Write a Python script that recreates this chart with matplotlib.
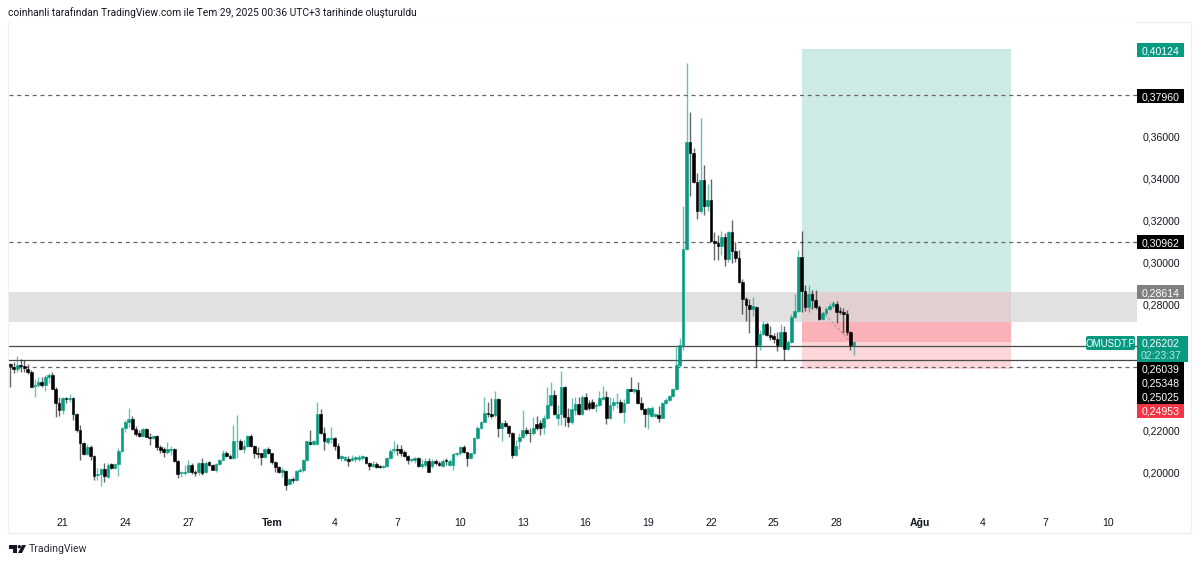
import numpy as np
import matplotlib
matplotlib.use("Agg")
import matplotlib.pyplot as plt
from matplotlib.patches import Rectangle, Polygon, FancyBboxPatch
from matplotlib.transforms import Affine2D

# OMUSDT.P 4h candles, prices in 1/10000 USDT
opens = [
    2518, 2505, 2492, 2513, 2510, 2492, 2480, 2412, 2418, 2434,
    2418, 2458, 2464, 2401, 2334, 2300, 2358, 2352, 2355, 2281,
    2205, 2142, 2091, 2123, 2082, 1990, 1996, 2018, 1981, 2042,
    2023, 2042, 2105, 2213, 2244, 2255, 2208, 2189, 2176, 2210,
    2173, 2167, 2176, 2123, 2113, 2101, 2107, 2113, 2055, 1999,
    1999, 2003, 2039, 2006, 2003, 2047, 2003, 2050, 2039, 2015,
    2044, 2063, 2097, 2083, 2071, 2150, 2154, 2116, 2126, 2176,
    2129, 2094, 2094, 2075, 2113, 2094, 2050, 2028, 2006, 2011,
    1946, 1971, 1965, 2009, 2012, 2063, 2148, 2139, 2139, 2281,
    2189, 2148, 2162, 2167, 2129, 2069, 2063, 2066, 2063, 2066,
    2066, 2069, 2075, 2047, 2034, 2044, 2034, 2028, 2031, 2071,
    2107, 2116, 2113, 2102, 2079, 2060, 2063, 2071, 2034, 2039,
    2055, 2034, 2055, 2047, 2034, 2063, 2039, 2039, 2088, 2094,
    2123, 2101, 2069, 2094, 2165, 2214, 2244, 2284, 2278, 2274,
    2350, 2213, 2236, 2221, 2192, 2086, 2151, 2173, 2202, 2192,
    2189, 2233, 2236, 2218, 2260, 2323, 2371, 2259, 2281, 2410,
    2265, 2243, 2300, 2328, 2281, 2363, 2334, 2339, 2316, 2323,
    2353, 2363, 2259, 2323, 2331, 2339, 2292, 2334, 2398, 2391,
    2395, 2334, 2304, 2281, 2271, 2271, 2274, 2263, 2331, 2347,
    2366, 2398, 2513, 2610, 3064, 3570, 3519, 3380, 3243, 3393,
    3266, 3298, 3100, 3094, 3076, 3120, 3015, 3142, 3052, 3020,
    2906, 2826, 2799, 2778, 2788, 2609, 2662, 2709, 2655, 2649,
    2636, 2609, 2671, 2589, 2620, 2740, 2769, 3025, 2862, 2788,
    2851, 2823, 2788, 2733, 2759, 2778, 2791, 2804, 2767, 2764,
    2756, 2668, 2608,
]
highs = [
    2521, 2529, 2557, 2540, 2537, 2518, 2489, 2445, 2455, 2455,
    2466, 2474, 2478, 2407, 2363, 2363, 2363, 2374, 2360, 2284,
    2229, 2145, 2139, 2134, 2086, 2026, 2026, 2047, 2047, 2047,
    2047, 2118, 2218, 2252, 2308, 2271, 2221, 2205, 2216, 2213,
    2189, 2181, 2181, 2134, 2123, 2145, 2129, 2118, 2060, 2011,
    2039, 2060, 2047, 2015, 2050, 2071, 2055, 2055, 2044, 2047,
    2066, 2107, 2104, 2091, 2229, 2276, 2161, 2157, 2181, 2186,
    2134, 2123, 2097, 2118, 2123, 2097, 2055, 2034, 2028, 2015,
    1976, 1981, 2012, 2023, 2066, 2154, 2202, 2157, 2338, 2304,
    2218, 2173, 2218, 2173, 2142, 2086, 2082, 2079, 2086, 2082,
    2086, 2086, 2079, 2050, 2055, 2050, 2039, 2039, 2075, 2113,
    2150, 2139, 2134, 2110, 2086, 2071, 2075, 2075, 2066, 2071,
    2071, 2066, 2066, 2059, 2066, 2071, 2066, 2094, 2102, 2129,
    2134, 2102, 2097, 2170, 2224, 2249, 2360, 2339, 2355, 2391,
    2355, 2244, 2252, 2229, 2197, 2157, 2189, 2297, 2218, 2213,
    2268, 2271, 2252, 2276, 2410, 2434, 2394, 2323, 2486, 2413,
    2308, 2355, 2363, 2363, 2371, 2382, 2347, 2350, 2331, 2387,
    2413, 2387, 2363, 2355, 2379, 2350, 2350, 2402, 2455, 2402,
    2434, 2363, 2308, 2312, 2316, 2287, 2316, 2339, 2355, 2371,
    2402, 2600, 2640, 3268, 3946, 3714, 3543, 3424, 3685, 3464,
    3374, 3396, 3143, 3132, 3150, 3139, 3150, 3202, 3099, 3057,
    2921, 2835, 2826, 2835, 2794, 2681, 2720, 2715, 2696, 2665,
    2668, 2709, 2696, 2633, 2756, 2851, 3057, 3147, 2894, 2894,
    2870, 2870, 2799, 2763, 2788, 2807, 2816, 2816, 2788, 2783,
    2775, 2673, 2625,
]
lows = [
    2410, 2474, 2480, 2481, 2478, 2469, 2406, 2360, 2410, 2407,
    2391, 2426, 2398, 2265, 2271, 2281, 2334, 2339, 2252, 2197,
    2063, 2086, 2086, 2063, 1968, 1968, 1936, 1955, 1976, 2018,
    2018, 1984, 2102, 2197, 2218, 2205, 2176, 2170, 2173, 2170,
    2134, 2161, 2110, 2094, 2075, 2091, 2086, 2050, 1976, 1979,
    1992, 1999, 1996, 1987, 1992, 1992, 1999, 2031, 2012, 2007,
    2037, 2060, 2075, 2066, 2066, 2071, 2107, 2097, 2123, 2123,
    2071, 2071, 2039, 2069, 2088, 2041, 2006, 1999, 1981, 1917,
    1943, 1952, 1960, 2006, 2007, 2055, 2134, 2132, 2135, 2186,
    2110, 2139, 2142, 2107, 2066, 2059, 2055, 2034, 2055, 2050,
    2055, 2063, 2044, 2012, 2028, 2023, 2023, 2023, 2028, 2066,
    2097, 2086, 2079, 2075, 2044, 2050, 2047, 2028, 2023, 2028,
    2003, 2023, 2039, 2031, 2028, 2039, 2034, 2012, 2079, 2086,
    2097, 2034, 2066, 2091, 2161, 2208, 2240, 2265, 2260, 2265,
    2173, 2150, 2218, 2173, 2071, 2079, 2113, 2165, 2181, 2145,
    2181, 2205, 2181, 2186, 2255, 2316, 2276, 2229, 2229, 2224,
    2218, 2233, 2276, 2276, 2276, 2297, 2300, 2303, 2292, 2316,
    2347, 2233, 2255, 2297, 2308, 2287, 2236, 2331, 2387, 2379,
    2328, 2300, 2218, 2208, 2268, 2265, 2240, 2260, 2328, 2344,
    2363, 2395, 2505, 2584, 3061, 3314, 3377, 3206, 3235, 3224,
    3246, 3096, 3012, 3012, 3036, 2981, 3000, 2997, 3004, 2902,
    2756, 2720, 2665, 2744, 2503, 2586, 2657, 2649, 2633, 2617,
    2578, 2601, 2535, 2583, 2617, 2736, 2766, 2763, 2767, 2763,
    2778, 2778, 2728, 2731, 2752, 2772, 2783, 2712, 2756, 2665,
    2657, 2586, 2562,
]
closes = [
    2508, 2496, 2511, 2507, 2499, 2480, 2410, 2418, 2434, 2418,
    2458, 2467, 2401, 2334, 2300, 2358, 2352, 2355, 2281, 2205,
    2142, 2091, 2123, 2082, 1987, 1996, 2018, 1984, 2039, 2023,
    2042, 2105, 2213, 2244, 2255, 2208, 2184, 2176, 2208, 2173,
    2165, 2176, 2123, 2110, 2101, 2113, 2113, 2055, 1996, 2007,
    2006, 2039, 2003, 1999, 2047, 1999, 2047, 2039, 2015, 2044,
    2063, 2097, 2083, 2071, 2150, 2154, 2116, 2126, 2176, 2126,
    2094, 2090, 2074, 2113, 2094, 2050, 2028, 2006, 2012, 1943,
    1971, 1965, 2009, 2015, 2063, 2151, 2139, 2150, 2281, 2189,
    2150, 2165, 2167, 2126, 2071, 2079, 2075, 2056, 2071, 2075,
    2075, 2079, 2047, 2034, 2044, 2028, 2028, 2034, 2071, 2105,
    2113, 2107, 2097, 2079, 2060, 2066, 2069, 2034, 2044, 2055,
    2007, 2055, 2047, 2037, 2059, 2055, 2059, 2090, 2094, 2123,
    2101, 2071, 2094, 2165, 2214, 2244, 2284, 2278, 2271, 2350,
    2213, 2236, 2221, 2192, 2086, 2129, 2173, 2202, 2192, 2188,
    2216, 2216, 2216, 2260, 2323, 2371, 2281, 2281, 2410, 2265,
    2240, 2303, 2328, 2281, 2360, 2303, 2308, 2308, 2323, 2355,
    2360, 2259, 2323, 2339, 2339, 2292, 2334, 2398, 2391, 2398,
    2331, 2304, 2281, 2308, 2308, 2278, 2263, 2331, 2347, 2366,
    2398, 2513, 2610, 3064, 3570, 3519, 3380, 3243, 3393, 3266,
    3298, 3100, 3094, 3076, 3120, 3015, 3142, 3052, 3020, 2906,
    2826, 2799, 2778, 2791, 2609, 2662, 2709, 2655, 2646, 2636,
    2609, 2671, 2589, 2620, 2740, 2769, 3025, 2862, 2788, 2851,
    2823, 2788, 2733, 2759, 2778, 2794, 2807, 2766, 2763, 2756,
    2668, 2609, 2620,
]

# day ticks, given as candle number (6 candles a day, 21 Jun is candle 15)
tick_candles = [15, 33, 51, 75, 93, 111, 129, 147, 165, 183, 201, 219, 237, 261, 279, 297, 315]
tick_labels = ['21', '24', '27', 'Tem', '4', '7', '10', '13', '16', '19', '22', '25', '28', 'Ağu', '4', '7', '10']
month_ticks = ['Tem', 'Ağu']
price_ticks = [0.20, 0.22, 0.28, 0.30, 0.32, 0.34, 0.36]

solid_levels = [0.26039, 0.25348]
dashed_levels = [0.37960, 0.30962, 0.25025]

entry = 0.28614
target = 0.40124
stop = 0.24953
last_price = 0.26202
zone_bottom = 0.2717
box_start, box_end = 227, 287
guide_x = [233, 241.4]
guide_y = [0.2765, 0.2617]

GREEN = '#089981'
RED = '#f23645'
TEXT = '#131722'
FONT = 'Liberation Sans'
LABEL_SIZE = 7.6


def make_axes(fig):
    ax = fig.add_axes([9 / 1200, 1 - 510 / 563, 1128 / 1200, 488 / 563])
    ax.set_xlim(-0.38, 323.2)
    ax.set_ylim(0.2 - 37 / 2106, 0.2 + 451 / 2106)
    for spine in ax.spines.values():
        spine.set_visible(False)
    ax.yaxis.tick_right()
    ax.set_yticks(price_ticks)
    ax.set_yticklabels([f"{p:.5f}".replace('.', ',') for p in price_ticks],
                       fontsize=LABEL_SIZE, color=TEXT, family=FONT)
    ax.tick_params(axis='y', length=0, pad=4.3)
    ax.set_xticks(tick_candles)
    ax.set_xticklabels(tick_labels, fontsize=LABEL_SIZE, color=TEXT, family=FONT)
    ax.tick_params(axis='x', length=0, pad=5.5)
    for lab in ax.get_xticklabels():
        if lab.get_text() in month_ticks:
            lab.set_fontweight('bold')
    return ax


def draw_zones(ax):
    ax.axhspan(zone_bottom, entry, color='#e1e1e1', lw=0, zorder=1)
    width = box_end - box_start
    ax.add_patch(Rectangle((box_start, entry), width, target - entry, color=GREEN, alpha=0.2, lw=0, zorder=2))
    ax.add_patch(Rectangle((box_start, zone_bottom), width, entry - zone_bottom, color=RED, alpha=0.1, lw=0, zorder=2))
    ax.add_patch(Rectangle((box_start, last_price), width, zone_bottom - last_price, color=RED, alpha=0.38, lw=0, zorder=2))
    ax.add_patch(Rectangle((box_start, stop), width, last_price - stop, color=RED, alpha=0.2, lw=0, zorder=2))


def draw_levels(ax):
    for level in solid_levels:
        ax.axhline(level, color='#4a4a4a', lw=0.9, zorder=3)
    for level in dashed_levels:
        ax.axhline(level, color='#666666', lw=0.9, dashes=(3.2, 3.0), zorder=3)
    ax.plot(guide_x, guide_y, color='#999999', lw=0.8, dashes=(2, 2), zorder=3)


def draw_candles(ax):
    o = np.array(opens) / 1e4
    h = np.array(highs) / 1e4
    l = np.array(lows) / 1e4
    c = np.array(closes) / 1e4
    x = np.arange(len(o))
    up = c >= o
    colors = np.where(up, GREEN, '#000000')
    ax.vlines(x, l, h, colors=colors, lw=1.0, alpha=0.6, zorder=4)
    ax.bar(x, np.abs(c - o), bottom=np.minimum(o, c), width=0.78, color=colors,
           edgecolor=colors, lw=0.4, zorder=5)


def price_tag(fig, px, x0, x1, y0, y1, text, color, fg='white'):
    fig.add_artist(Rectangle((x0, y0), x1 - x0, y1 - y0, transform=px, facecolor=color, edgecolor='none'))
    fig.text((x0 + x1) / 2, (y0 + y1) / 2, text, transform=px, ha='center', va='center_baseline',
             fontsize=LABEL_SIZE, color=fg, family=FONT)


def draw_overlays(fig):
    # fixed overlay pieces are placed in output pixels, y going down
    px = Affine2D().scale(1, -1).translate(0, 563)

    fig.add_artist(Rectangle((8, 22), 1183, 511, transform=px, facecolor='none',
                             edgecolor='#eef0f5', lw=1, zorder=0))
    fig.text(8, 13, "coinhanli tarafından TradingView.com ile Tem 29, 2025 00:36 UTC+3 tarihinde oluşturuldu",
             transform=px, ha='left', va='center', fontsize=7.4, color=TEXT, family='Roboto')

    price_tag(fig, px, 1137, 1184, 43, 57, "0,40124", GREEN)
    price_tag(fig, px, 1137, 1184, 89, 103, "0,37960", '#000000')
    price_tag(fig, px, 1137, 1184, 235, 249, "0,30962", '#000000')
    price_tag(fig, px, 1137, 1184, 285, 299, "0,28614", '#808080')

    fig.add_artist(FancyBboxPatch((1087, 337), 47, 12, boxstyle="round,pad=1,rounding_size=2",
                                  transform=px, facecolor=GREEN, edgecolor='none', zorder=6))
    fig.text(1110.5, 343, "OMUSDT.P", transform=px, ha='center', va='center_baseline',
             fontsize=7.0, color='white', family=FONT, zorder=7)

    fig.add_artist(Rectangle((1137, 336), 51, 26, transform=px, facecolor=GREEN, edgecolor='none'))
    fig.text(1161, 342.5, "0,26202", transform=px, ha='center', va='center_baseline',
             fontsize=LABEL_SIZE, color='white', family=FONT)
    fig.text(1161, 355, "02:23:37", transform=px, ha='center', va='center_baseline',
             fontsize=LABEL_SIZE, color='#bfe6de', family=FONT)

    fig.add_artist(Rectangle((1137, 362), 47, 42, transform=px, facecolor='#000000', edgecolor='none'))
    for y, text in [(368.5, "0,26039"), (382, "0,25348"), (396.5, "0,25025")]:
        fig.text(1160.5, y, text, transform=px, ha='center', va='center_baseline',
                 fontsize=LABEL_SIZE, color='white', family=FONT)
    price_tag(fig, px, 1137, 1184, 404, 418, "0,24953", RED)

    # TradingView logo
    fig.add_artist(Polygon([(9, 545), (17, 545), (17, 553), (13, 553), (13, 548.5), (9, 548.5)],
                           transform=px, facecolor='#131722', edgecolor='none'))
    fig.add_artist(Polygon([(22, 545), (26, 545), (22, 553), (18, 553)],
                           transform=px, facecolor='#131722', edgecolor='none'))
    fig.add_artist(plt.Circle((19.3, 546.7), 1.7, transform=px, facecolor='#131722', edgecolor='none'))
    fig.text(29, 548.5, "TradingView", transform=px, ha='left', va='center', fontsize=7.6,
             color='#2a2e39', family='Roboto')


def main():
    fig = plt.figure(figsize=(12, 5.63), dpi=100, facecolor='white')
    ax = make_axes(fig)
    draw_zones(ax)
    draw_levels(ax)
    draw_candles(ax)
    draw_overlays(fig)
    fig.savefig("out.png", dpi=100)


if __name__ == "__main__":
    main()
